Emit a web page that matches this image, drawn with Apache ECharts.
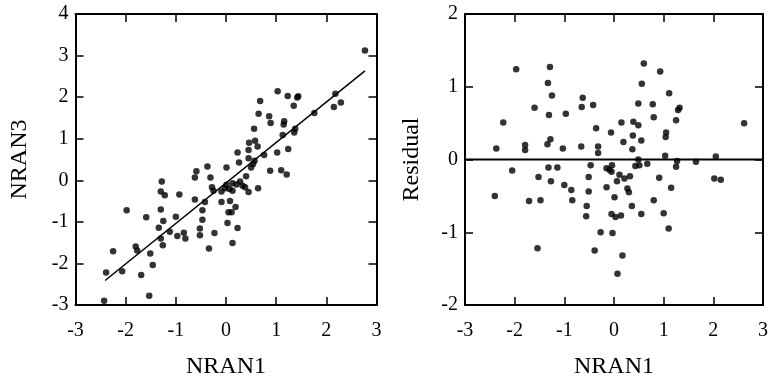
<!DOCTYPE html>
<html>
<head>
<meta charset="utf-8">
<script src="https://cdn.jsdelivr.net/npm/echarts@6/dist/echarts.min.js"></script>
<style>
html,body{margin:0;padding:0;background:#fff;}
#chart{width:771px;height:384px;}
</style>
</head>
<body>
<div id="chart"></div>
<script>
// Left panel: NRAN1 vs NRAN3
var nran1 = [2.77,2.18,2.29,2.15,1.76,1.03,1.23,1.44,1.42,1.35,0.68,0.65,0.86,0.89,1.16,1.15,1.38,1.36,1.13,0.56,
  0.46,0.58,0.63,0.45,1.24,1.02,0.76,0.23,0.45,0.57,0.26,0.54,0.50,0.88,1.10,1.21,-0.59,-0.37,0.01,0.40,
  -0.62,-0.31,-1.28,-0.28,-0.25,-1.30,-1.22,-0.93,-0.09,-0.02,0.07,0.13,0.28,0.33,0.38,0.45,0.64,0.01,-0.62,-0.42,
  -0.47,-0.47,-0.09,0.08,0.19,0.05,0.11,0.03,0.23,0.13,-0.23,-0.34,-0.52,-0.52,-0.84,-0.81,-0.97,-1.00,-1.12,-1.34,
  -1.25,-1.30,-1.59,-1.98,-1.30,-1.26,-1.80,-1.77,-1.51,-2.25,-1.46,-2.07,-2.39,-1.69,-1.53,-2.43,0.13,0.21];
var nran3 = [3.12,2.08,1.87,1.76,1.62,2.14,2.03,2.02,1.99,1.79,1.91,1.60,1.54,1.38,1.42,1.34,1.24,1.15,1.09,1.24,
  0.90,0.95,0.81,0.73,0.75,0.67,0.61,0.67,0.53,0.47,0.43,0.39,0.31,0.23,0.24,0.14,0.22,0.33,0.31,0.10,
  0.07,0.07,-0.03,-0.17,-0.25,-0.27,-0.36,-0.34,-0.27,-0.19,-0.21,-0.25,-0.03,-0.13,-0.17,-0.28,-0.19,-0.11,-0.46,-0.52,
  -0.72,-0.95,-0.52,-0.50,-0.64,-0.77,-0.77,-1.03,-1.15,-1.51,-1.27,-1.64,-1.16,-1.32,-1.26,-1.40,-1.34,-0.88,-1.24,-1.14,
  -0.98,-0.70,-0.89,-0.72,-1.40,-1.56,-1.59,-1.69,-1.76,-1.71,-2.04,-2.19,-2.22,-2.28,-2.78,-2.90,-0.07,-0.10];
// Fitted regression line end points
var fitX = [-2.41, 2.77];
var fitY = [-2.41, 2.63];

// Right panel: NRAN1 vs residual
var resX = [-1.97,-1.29,-1.33,-1.25,-1.60,-1.31,-2.23,-0.97,-0.63,-0.65,-0.42,-0.36,-2.37,-1.79,-1.79,-1.28,-1.34,-1.03,-0.66,-0.32,
  -0.32,-0.06,0.15,0.19,0.39,0.49,0.38,0.55,0.37,0.60,0.56,0.49,0.93,1.11,0.78,0.80,1.32,1.29,1.25,1.05,
  1.04,1.03,2.05,2.62,0.49,-2.05,-1.32,-1.14,-1.52,-1.27,-1.00,-0.86,-2.40,-1.71,-1.48,-0.84,-0.47,-0.51,-0.51,-0.55,
  -0.56,-0.15,-0.09,-0.04,-0.05,0.11,0.21,0.32,0.06,-0.15,0.27,0.30,0.01,0.36,0.55,-0.05,0.03,0.14,0.43,0.51,
  0.67,0.91,1.25,1.27,1.65,1.15,0.80,1.00,1.10,2.02,2.15,-0.27,-0.03,-1.54,-0.39,0.17,0.07];
var residual = [1.24,1.27,1.05,0.88,0.71,0.61,0.51,0.63,0.85,0.72,0.75,0.43,0.15,0.20,0.13,0.28,0.21,0.15,0.18,0.18,
  0.09,0.37,0.51,0.24,0.52,0.47,0.33,0.26,0.14,1.32,1.04,0.77,1.21,0.91,0.76,0.58,0.71,0.68,0.54,0.37,
  0.31,0.05,0.04,0.50,0.00,-0.15,-0.11,-0.11,-0.24,-0.30,-0.35,-0.42,-0.50,-0.57,-0.56,-0.56,-0.08,-0.24,-0.44,-0.64,
  -0.78,-0.12,-0.14,-0.08,-0.17,-0.21,-0.26,-0.23,-0.30,-0.38,-0.40,-0.45,-0.52,-0.64,-0.75,-0.75,-0.79,-0.77,-0.09,-0.08,
  -0.06,-0.25,-0.10,-0.02,-0.03,-0.39,-0.56,-0.74,-0.95,-0.26,-0.28,-1.00,-1.01,-1.22,-1.25,-1.32,-1.57];
var zeroX = [-3, 3];
var zeroY = [0, 0];

var xTicks = [-3,-2,-1,0,1,2,3];
var yTicksLeft = [-3,-2,-1,0,1,2,3,4];
var yTicksRight = [-2,-1,0,1,2];

function pairs(a, b) { return a.map(function (v, i) { return [v, b[i]]; }); }

var FONT = 'Liberation Serif';
var lineStyle = { color: '#000', width: 2 };
function axisBase(extra) {
  var o = {
    type: 'value',
    axisLine: { show: true, onZero: false, lineStyle: lineStyle },
    axisTick: { show: true, inside: true, length: 8, lineStyle: { color: '#000', width: 1.5 } },
    axisLabel: { show: false },
    splitLine: { show: false },
    interval: 1
  };
  for (var k in extra) o[k] = extra[k];
  return o;
}
var labelStyle = { show: true, color: '#000', fontSize: 20, fontFamily: FONT };
var nameStyle = { color: '#000', fontSize: 24, fontFamily: FONT };

var chart = echarts.init(document.getElementById('chart'), null, { renderer: 'canvas' });
chart.setOption({
  animation: false,
  backgroundColor: '#fff',
  grid: [
    { left: 75.5, right: 394.5, top: 14, bottom: 70 },
    { left: 465, right: 6, top: 14, bottom: 69 }
  ],
  xAxis: [
    axisBase({ gridIndex: 0, position: 'bottom', min: xTicks[0], max: xTicks[xTicks.length-1],
      axisLabel: Object.assign({ margin: 16 }, labelStyle),
      name: 'NRAN1', nameLocation: 'middle', nameGap: 50, nameTextStyle: nameStyle }),
    axisBase({ gridIndex: 0, position: 'top', min: xTicks[0], max: xTicks[xTicks.length-1] }),
    axisBase({ gridIndex: 1, position: 'bottom', min: xTicks[0], max: xTicks[xTicks.length-1],
      axisLabel: Object.assign({ margin: 16 }, labelStyle),
      name: 'NRAN1', nameLocation: 'middle', nameGap: 50, nameTextStyle: nameStyle }),
    axisBase({ gridIndex: 1, position: 'top', min: xTicks[0], max: xTicks[xTicks.length-1] })
  ],
  yAxis: [
    axisBase({ gridIndex: 0, position: 'left', min: yTicksLeft[0], max: yTicksLeft[yTicksLeft.length-1],
      axisLabel: Object.assign({ margin: 7 }, labelStyle),
      name: 'NRAN3', nameLocation: 'middle', nameGap: 44, nameTextStyle: nameStyle }),
    axisBase({ gridIndex: 0, position: 'right', min: yTicksLeft[0], max: yTicksLeft[yTicksLeft.length-1] }),
    axisBase({ gridIndex: 1, position: 'left', min: yTicksRight[0], max: yTicksRight[yTicksRight.length-1],
      axisLabel: Object.assign({ margin: 7 }, labelStyle),
      name: 'Residual', nameLocation: 'middle', nameGap: 41, nameTextStyle: nameStyle }),
    axisBase({ gridIndex: 1, position: 'right', min: yTicksRight[0], max: yTicksRight[yTicksRight.length-1] })
  ],
  series: [
    { type: 'scatter', xAxisIndex: 0, yAxisIndex: 0, data: pairs(nran1, nran3),
      symbol: 'circle', symbolSize: 6.5, itemStyle: { color: '#000' } },
    { type: 'line', xAxisIndex: 0, yAxisIndex: 0, data: pairs(fitX, fitY),
      symbol: 'none', lineStyle: { color: '#000', width: 1.5 } },
    { type: 'scatter', xAxisIndex: 2, yAxisIndex: 2, data: pairs(resX, residual),
      symbol: 'circle', symbolSize: 6.5, itemStyle: { color: '#000' } },
    { type: 'line', xAxisIndex: 2, yAxisIndex: 2, data: pairs(zeroX, zeroY),
      symbol: 'none', lineStyle: { color: '#000', width: 2 } }
  ]
});
</script>
</body>
</html>
